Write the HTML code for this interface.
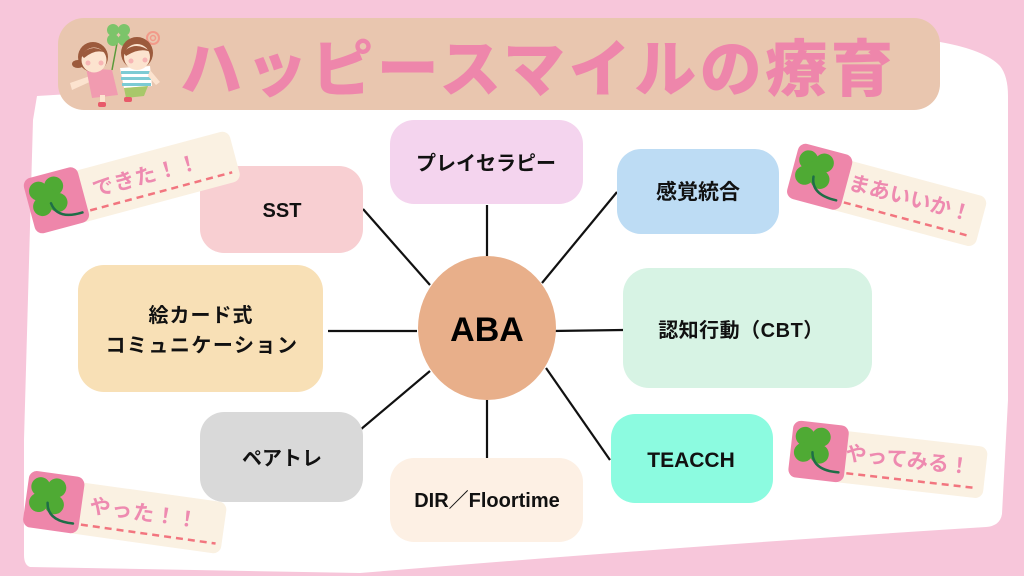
<!DOCTYPE html>
<html><head><meta charset="utf-8"><style>
html,body{margin:0;padding:0;background:#F7C6DA;}
svg{display:block;}
text{font-family:"Liberation Sans","Noto Sans CJK JP",sans-serif;}
</style></head><body>
<svg width="1024" height="576" viewBox="0 0 1024 576" xmlns="http://www.w3.org/2000/svg">
<defs>
<g id="clover">
  <circle cx="13" cy="15" r="9.5" fill="#4FAA34"/>
  <circle cx="29" cy="14" r="9.5" fill="#4FAA34"/>
  <circle cx="13" cy="31" r="9.5" fill="#4FAA34"/>
  <circle cx="29" cy="31" r="9.5" fill="#4FAA34"/>
  <circle cx="21" cy="22.5" r="8" fill="#4FAA34"/>
  <path d="M22 30 Q24 48 50 47" fill="none" stroke="#1E6E47" stroke-width="2.5" stroke-linecap="round"/>
</g>
</defs>
<rect width="1024" height="576" fill="#F7C6DA"/>
<!-- white paper -->
<path d="M37 96 L940 42 Q985 50 1000 66 Q1008 76 1008 96 L1008 400 L1002 514 Q1000 526 986 527 Q700 545 360 573 L30 567 Q24 565 24 555 L24 440 L33 120 Z" fill="#FFFFFF"/>
<!-- header -->
<rect x="58" y="18" width="882" height="92" rx="26" fill="#E9C6AF"/>
<text x="180" y="91" font-size="62" font-weight="900" fill="#EE86AB" textLength="713" lengthAdjust="spacing">ハッピースマイルの療育</text>
<!-- kids illustration -->
<g>
  <line x1="112" y1="70" x2="118" y2="38" stroke="#5A9A3A" stroke-width="1.5"/>
  <circle cx="113" cy="30" r="6" fill="#7CC46A"/><circle cx="124" cy="30" r="6" fill="#7CC46A"/>
  <circle cx="113" cy="40" r="6" fill="#7CC46A"/><circle cx="124" cy="40" r="6" fill="#7CC46A"/>
  <circle cx="153" cy="38" r="6" fill="none" stroke="#F29A8A" stroke-width="2"/>
  <circle cx="153" cy="38" r="2.5" fill="none" stroke="#F29A8A" stroke-width="1.5"/>
  <!-- girl -->
  <path d="M70 83 L90 76 L94 80 L72 90 Z" fill="#FCE3CF"/>
  <path d="M86 68 L112 70 L118 95 L92 98 Z" fill="#F19BB0"/>
  <rect x="100" y="95" width="5" height="9" fill="#FCE3CF"/>
  <rect x="98" y="102" width="8" height="5" rx="2" fill="#E85A6A"/>
  <ellipse cx="78" cy="64" rx="6" ry="4" fill="#9C5A3C"/>
  <circle cx="93" cy="57" r="15" fill="#9C5A3C"/>
  <circle cx="94" cy="60" r="12.5" fill="#FCE3CF"/>
  <path d="M81 55 Q92 42 106 53 Q96 48 84 58 Z" fill="#9C5A3C"/>
  <circle cx="88" cy="63" r="2.5" fill="#F7B5B5"/><circle cx="101" cy="63" r="2.5" fill="#F7B5B5"/>
  <!-- boy -->
  <path d="M120 68 L150 66 L152 86 L124 88 Z" fill="#FFFFFF"/>
  <rect x="121" y="71" width="30" height="3" fill="#7CCBD4"/>
  <rect x="121" y="77" width="30" height="3" fill="#7CCBD4"/>
  <rect x="122" y="83" width="29" height="3" fill="#7CCBD4"/>
  <path d="M124 88 L148 86 L144 96 L126 98 Z" fill="#A8C86A"/>
  <path d="M150 70 L160 82 L156 85 L148 76 Z" fill="#FCE3CF"/>
  <rect x="124" y="97" width="8" height="5" rx="2" fill="#E85A6A"/>
  <circle cx="137" cy="53" r="16" fill="#9C5A3C"/>
  <circle cx="137" cy="57" r="13" fill="#FCE3CF"/>
  <path d="M123 52 Q136 40 151 52 Q140 47 126 56 Z" fill="#9C5A3C"/>
  <circle cx="131" cy="61" r="2.5" fill="#F7B5B5"/><circle cx="145" cy="60" r="2.5" fill="#F7B5B5"/>
</g>
<!-- connectors -->
<g stroke="#111" stroke-width="2.2" stroke-linecap="butt">
  <line x1="487" y1="205" x2="487" y2="256"/>
  <line x1="542" y1="283" x2="617" y2="192"/>
  <line x1="363" y1="209" x2="430" y2="285"/>
  <line x1="328" y1="331" x2="417" y2="331"/>
  <line x1="552" y1="331" x2="623" y2="330"/>
  <line x1="430" y1="371" x2="360" y2="430"/>
  <line x1="487" y1="400" x2="487" y2="458"/>
  <line x1="546" y1="368" x2="610" y2="460"/>
</g>
<!-- nodes -->
<rect x="390" y="120" width="193" height="84" rx="24" fill="#F4D4EE"/>
<text x="486" y="170" font-size="20" font-weight="700" fill="#111" text-anchor="middle">プレイセラピー</text>
<rect x="617" y="149" width="162" height="85" rx="24" fill="#BDDCF4"/>
<text x="698" y="199" font-size="21" font-weight="700" fill="#111" text-anchor="middle">感覚統合</text>
<rect x="200" y="166" width="163" height="87" rx="24" fill="#F8CFD2"/>
<text x="282" y="217" font-size="20" font-weight="700" fill="#111" text-anchor="middle">SST</text>
<rect x="78" y="265" width="245" height="127" rx="26" fill="#F8E0B6"/>
<text x="201" y="322" font-size="20" font-weight="700" fill="#111" text-anchor="middle" letter-spacing="1">絵カード式</text>
<text x="202" y="352" font-size="20" font-weight="700" fill="#111" text-anchor="middle" letter-spacing="1.5">コミュニケーション</text>
<rect x="623" y="268" width="249" height="120" rx="26" fill="#D7F3E4"/>
<text x="741" y="337" font-size="20" font-weight="700" fill="#111" text-anchor="middle" letter-spacing="0.5">認知行動（CBT）</text>
<rect x="200" y="412" width="163" height="90" rx="24" fill="#D9D9D9"/>
<text x="282" y="465" font-size="20" font-weight="700" fill="#111" text-anchor="middle">ペアトレ</text>
<rect x="390" y="458" width="193" height="84" rx="24" fill="#FDF0E4"/>
<text x="487" y="507" font-size="20" font-weight="700" fill="#111" text-anchor="middle">DIR／Floortime</text>
<rect x="611" y="414" width="162" height="89" rx="24" fill="#8CFBE0"/>
<text x="691" y="467" font-size="21" font-weight="700" fill="#111" text-anchor="middle">TEACCH</text>
<!-- ABA -->
<ellipse cx="487" cy="328" rx="69" ry="72" fill="#E8AF8A"/>
<text x="487" y="341" font-size="34" font-weight="700" fill="#000" text-anchor="middle">ABA</text>
<!-- tag 1 -->
<g transform="translate(22,180) rotate(-15)">
  <rect x="44" y="5" width="168" height="52" rx="8" fill="#FAF1E2"/>
  <rect x="0" y="0" width="56" height="57" rx="8" fill="#EE86AA"/>
  <use href="#clover"/>
  <text x="66" y="35" font-size="21" font-weight="700" fill="#EE8AB0" letter-spacing="1">できた！！</text>
  <line x1="58" y1="47" x2="205" y2="47" stroke="#F2757F" stroke-width="2.5" stroke-dasharray="7 5"/>
</g>
<!-- tag 2 -->
<g transform="translate(800,142) rotate(15)">
  <rect x="44" y="5" width="152" height="52" rx="8" fill="#FAF1E2"/>
  <rect x="0" y="0" width="56" height="57" rx="8" fill="#EE86AA"/>
  <use href="#clover"/>
  <text x="58" y="33" font-size="21" font-weight="700" fill="#EE8AB0">まあいいか！</text>
  <line x1="58" y1="47" x2="190" y2="47" stroke="#F2757F" stroke-width="2.5" stroke-dasharray="7 5"/>
</g>
<!-- tag 3 -->
<g transform="translate(794,420) rotate(6.5)">
  <rect x="44" y="5" width="152" height="52" rx="8" fill="#FAF1E2"/>
  <rect x="0" y="0" width="56" height="57" rx="8" fill="#EE86AA"/>
  <use href="#clover"/>
  <text x="55" y="34" font-size="21" font-weight="700" fill="#EE8AB0">やってみる！</text>
  <line x1="58" y1="47" x2="190" y2="47" stroke="#F2757F" stroke-width="2.5" stroke-dasharray="7 5"/>
</g>
<!-- tag 4 -->
<g transform="translate(30,470) rotate(8)">
  <rect x="44" y="5" width="156" height="52" rx="8" fill="#FAF1E2"/>
  <rect x="0" y="0" width="56" height="57" rx="8" fill="#EE86AA"/>
  <use href="#clover"/>
  <text x="64" y="34" font-size="21" font-weight="700" fill="#EE8AB0" letter-spacing="1">やった！！</text>
  <line x1="58" y1="47" x2="194" y2="47" stroke="#F2757F" stroke-width="2.5" stroke-dasharray="7 5"/>
</g>
</svg>
</body></html>
